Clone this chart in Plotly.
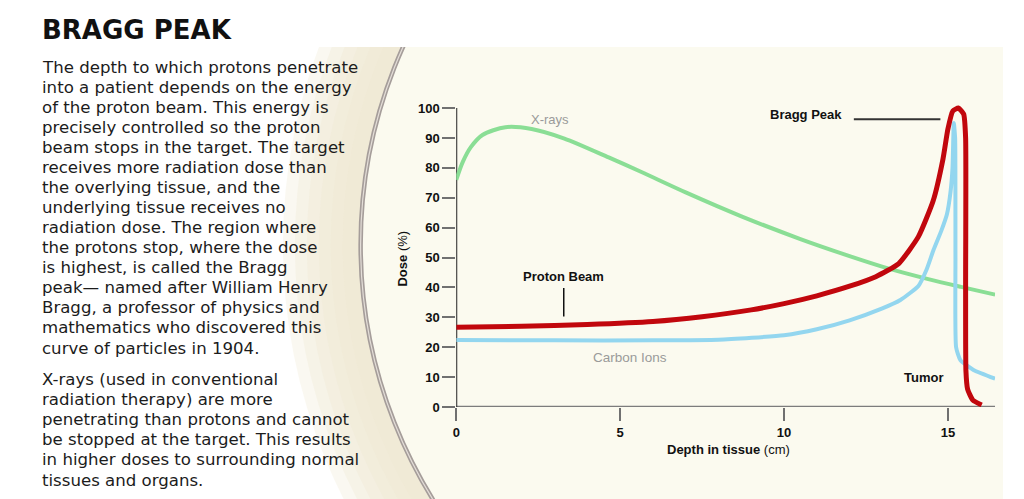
import plotly.graph_objects as go

# --- дані (глибина, см / доза, %) ---
xray_depth = [0, 0.2, 0.45, 0.8, 1.5, 2.3, 3.3, 4.65, 5.65, 7, 8.7, 10.5, 12, 13.2, 14.4, 15.4, 16.44]
xray_dose = [76, 82, 87, 91, 93.6, 93, 89.8, 83.5, 78.6, 71.8, 63.8, 56.2, 50.5, 46.3, 42.8, 40.2, 37.6]

proton_depth = [0, 2, 4, 6, 7.5, 9, 10, 11, 12, 12.8, 13.5, 14.1, 14.55, 14.85, 15.0, 15.15,
                15.32, 15.48, 15.54, 15.54, 15.55, 15.6, 15.76, 16.03]
proton_dose = [26.7, 27.0, 27.6, 28.6, 30.2, 32.5, 34.6, 37.2, 40.4, 43.6, 48, 57, 69, 83, 93, 99,
               100, 98, 90, 40, 12, 6, 2.3, 0.7]

carbon_depth = [0, 3, 6, 8, 10, 11, 12, 13, 13.55, 14.1, 14.35, 14.56, 14.8, 14.97, 15.08, 15.14, 15.18,
                15.22, 15.23, 15.25, 15.38, 15.78, 16.44]
carbon_dose = [22.4, 22.3, 22.3, 22.5, 24.0, 26, 29, 33, 35.8, 40.5, 46, 52.5, 59, 64.5, 72, 80, 95,
               90, 50, 20, 15.7, 12.4, 9.5]

y_ticks = list(range(0, 101, 10))
x_ticks = [0, 5, 10, 15]

title_text = "BRAGG PEAK"
para1 = [
    "The depth to which protons penetrate",
    "into a patient depends on the energy",
    "of the proton beam. This energy is",
    "precisely controlled so the proton",
    "beam stops in the target. The target",
    "receives more radiation dose than",
    "the overlying tissue, and the",
    "underlying tissue receives no",
    "radiation dose. The region where",
    "the protons stop, where the dose",
    "is highest, is called the Bragg",
    "peak\u2014 named after William Henry",
    "Bragg, a professor of physics and",
    "mathematics who discovered this",
    "curve of particles in 1904.",
]
para2 = [
    "X-rays (used in conventional",
    "radiation therapy) are more",
    "penetrating than protons and cannot",
    "be stopped at the target. This results",
    "in higher doses to surrounding normal",
    "tissues and organs.",
]

# сторінка має відступ 8px і знімок трохи стиснутий по вертикалі
OFF = 8
SY = 507 / 499
W, H = 1024 - OFF, 499


def fx(px):
    return (px - OFF) / W


def fy(py):
    return 1 - (py * SY - OFF) / H


RED = "#c1070d"
GREEN = "#8ade95"
BLUE = "#93d6ef"
CHART_FONT = "Liberation Sans, Arial, sans-serif"
TEXT_FONT = "DejaVu Sans, sans-serif"

fig = go.Figure()

# невидима точка, щоб фонова ділянка (xy) існувала
fig.add_trace(go.Scatter(x=[310], y=[47], mode="markers", marker=dict(opacity=0),
                         hoverinfo="skip", showlegend=False, xaxis="x", yaxis="y"))

# криві
fig.add_trace(go.Scatter(x=xray_depth, y=xray_dose, mode="lines", name="X-rays",
                         line=dict(color=GREEN, width=4, shape="spline", smoothing=0.8),
                         xaxis="x2", yaxis="y2", showlegend=False))
fig.add_trace(go.Scatter(x=carbon_depth, y=carbon_dose, mode="lines", name="Carbon Ions",
                         line=dict(color=BLUE, width=4, shape="spline", smoothing=0.5),
                         xaxis="x2", yaxis="y2", showlegend=False))
fig.add_trace(go.Scatter(x=proton_depth, y=proton_dose, mode="lines", name="Proton Beam",
                         line=dict(color=RED, width=5, shape="spline", smoothing=0.5),
                         xaxis="x2", yaxis="y2", showlegend=False))

# --- фон: тарілка з ободом (координати в пікселях референсу) ---
cx, cy = 840, 245
shapes = []
for r in [560, 548, 536, 524, 512, 500]:
    shapes.append(dict(type="circle", xref="x", yref="y", layer="below",
                       x0=cx - r, x1=cx + r, y0=cy - r, y1=cy + r,
                       fillcolor="#efe9d1", opacity=0.3, line=dict(width=0)))
shapes.append(dict(type="circle", xref="x", yref="y", layer="below",
                   x0=cx - 482, x1=cx + 482, y0=cy - 482, y1=cy + 482,
                   fillcolor="#fbfaef", line=dict(color="#a59d9a", width=4.5)))
shapes.append(dict(type="circle", xref="x", yref="y", layer="below",
                   x0=cx - 482, x1=cx + 482, y0=cy - 482, y1=cy + 482,
                   line=dict(color="#e4ded8", width=1.2)))

# осі графіка
shapes.append(dict(type="line", xref="x2", yref="y2", x0=0, x1=16.44, y0=0, y1=0,
                   line=dict(color="#7c7c7c", width=2.5), layer="below"))
shapes.append(dict(type="line", xref="x2", yref="y2", x0=0, x1=0, y0=0, y1=100,
                   line=dict(color="#222222", width=2), layer="below"))
# виноски
shapes.append(dict(type="line", xref="x2", yref="y2", x0=12.13, x1=14.77, y0=96.3, y1=96.3,
                   line=dict(color="#333333", width=2)))
shapes.append(dict(type="line", xref="x2", yref="y2", x0=3.28, x1=3.28, y0=30.3, y1=39.8,
                   line=dict(color="#111111", width=1.5)))

annotations = []
bold_lbl = dict(family=CHART_FONT, size=13, color="#111111", weight="bold")
gray_lbl = dict(family=CHART_FONT, size=13.5, color="#9a9a9a")
annotations.append(dict(text="X-rays", x=2.86, y=96.3, xref="x2", yref="y2",
                        showarrow=False, font=dict(family=CHART_FONT, size=13, color="#9a9a9a")))
annotations.append(dict(text="Bragg Peak", x=10.67, y=97.7, xref="x2", yref="y2",
                        showarrow=False, font=bold_lbl))
annotations.append(dict(text="Proton Beam", x=3.28, y=43.8, xref="x2", yref="y2",
                        showarrow=False, font=bold_lbl))
annotations.append(dict(text="Carbon Ions", x=5.29, y=16.7, xref="x2", yref="y2",
                        showarrow=False, font=gray_lbl))
annotations.append(dict(text="Tumor", x=14.26, y=10, xref="x2", yref="y2",
                        showarrow=False, font=bold_lbl))

# назви осей
annotations.append(dict(text="<b>Dose</b> (%)", x=fx(400), y=fy(258), xref="paper", yref="paper",
                        xanchor="center", yanchor="middle", textangle=-90, showarrow=False,
                        font=dict(family=CHART_FONT, size=13, color="#111111")))
annotations.append(dict(text="<b>Depth in tissue</b> (cm)", x=fx(727), y=fy(449),
                        xref="paper", yref="paper", xanchor="center", yanchor="middle",
                        showarrow=False, font=dict(family=CHART_FONT, size=13, color="#111111")))

# заголовок і текст
annotations.append(dict(text=title_text, x=fx(36), y=fy(30), xref="paper", yref="paper",
                        xanchor="left", yanchor="middle", showarrow=False,
                        font=dict(family=TEXT_FONT, size=26, color="#111111", weight="bold")))
for i, line in enumerate(para1):
    annotations.append(dict(text=line, x=fx(36), y=fy(67 + i * 20.07), xref="paper", yref="paper",
                            xanchor="left", yanchor="middle", showarrow=False,
                            font=dict(family=TEXT_FONT, size=16.6, color="#1c1c1c")))
for i, line in enumerate(para2):
    annotations.append(dict(text=line, x=fx(36), y=fy(379 + i * 20.2), xref="paper", yref="paper",
                            xanchor="left", yanchor="middle", showarrow=False,
                            font=dict(family=TEXT_FONT, size=16.6, color="#1c1c1c")))

tick_font = dict(family=CHART_FONT, size=13, color="#111111", weight="bold")

fig.update_layout(
    width=W, height=H,
    margin=dict(l=0, r=0, t=0, b=0),
    paper_bgcolor="white",
    plot_bgcolor="rgba(0,0,0,0)",
    showlegend=False,
    xaxis=dict(domain=[fx(250), fx(1003)], range=[250, 1003], visible=False, fixedrange=True),
    yaxis=dict(domain=[0, fy(47)], range=[499, 47], visible=False, fixedrange=True),
    xaxis2=dict(domain=[fx(454), fx(995)], range=[0, 16.44], anchor="y2",
                showgrid=False, zeroline=False, showline=False,
                tickmode="array", tickvals=x_ticks, ticks="outside", ticklen=13,
                tickwidth=2, tickcolor="#707070", tickfont=tick_font),
    yaxis2=dict(domain=[fy(407), fy(99)], range=[0, 103], anchor="x2",
                showgrid=False, zeroline=False, showline=False,
                tickmode="array", tickvals=y_ticks, ticks="outside", ticklen=13,
                tickwidth=2, tickcolor="#707070", tickfont=tick_font),
    shapes=shapes,
    annotations=annotations,
)

fig.write_html("out.html")
